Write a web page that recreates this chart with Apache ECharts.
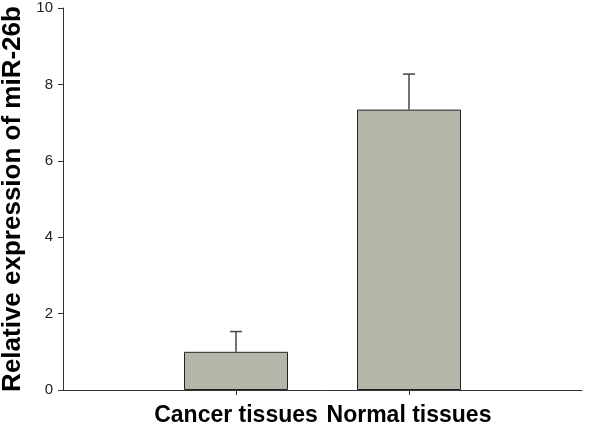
<!DOCTYPE html>
<html>
<head>
<meta charset="utf-8">
<script src="https://cdn.jsdelivr.net/npm/echarts@6/dist/echarts.min.js"></script>
<style>
  html, body { margin: 0; padding: 0; background: #fff; }
  #chart { width: 600px; height: 425px; }
</style>
</head>
<body>
<div id="chart"></div>
<script>
var categories = ['Cancer tissues', 'Normal tissues'];
var means = [1.0, 7.34];
var errors = [0.53, 0.93];
var yTicks = [0, 2, 4, 6, 8, 10];

// axis runs 0..3 with the two groups at 1 and 2
var axisCats = [''].concat(categories).concat(['']);
var barData = [null].concat(means).concat([null]);
var errData = [];
for (var i = 0; i < categories.length; i++) {
  errData.push([i + 1, means[i], means[i] + errors[i]]);
}

var myChart = echarts.init(document.getElementById('chart'));
var option = {
  animation: false,
  grid: { left: 63, right: 18, top: 8, bottom: 35, containLabel: false, outerBoundsMode: 'none' },
  xAxis: {
    type: 'category',
    data: axisCats,
    boundaryGap: false,
    axisLine: { lineStyle: { color: '#333', width: 1 } },
    axisTick: {
      length: 5,
      lineStyle: { color: '#333' },
      interval: function (idx) { return idx > 0 && idx < axisCats.length - 1; }
    },
    axisLabel: {
      interval: 0,
      margin: 14,
      color: '#000',
      fontFamily: 'Liberation Sans, Arial',
      fontWeight: 'bold',
      fontSize: 23
    },
    splitLine: { show: false }
  },
  yAxis: {
    type: 'value',
    min: yTicks[0],
    max: yTicks[yTicks.length - 1],
    interval: 2,
    name: 'Relative expression of miR-26b',
    nameLocation: 'middle',
    nameGap: 36,
    nameTextStyle: {
      color: '#000',
      fontFamily: 'Liberation Sans, Arial',
      fontWeight: 'bold',
      fontSize: 26
    },
    axisLine: { show: true, lineStyle: { color: '#333', width: 1 } },
    axisTick: { show: true, length: 5, lineStyle: { color: '#333' } },
    axisLabel: {
      margin: 10,
      color: '#222',
      fontFamily: 'Liberation Sans, Arial',
      fontSize: 15
    },
    splitLine: { show: false }
  },
  series: [
    {
      type: 'bar',
      data: barData,
      barWidth: 104,
      itemStyle: { color: '#b5b5a9', borderColor: '#222', borderWidth: 1 }
    },
    {
      type: 'custom',
      data: errData,
      z: 1,
      renderItem: function (params, api) {
        var x = api.value(0);
        var base = api.coord([x, api.value(1)]);
        var top = api.coord([x, api.value(2)]);
        var half = 6;
        var style = { stroke: '#444', lineWidth: 1.5 };
        return {
          type: 'group',
          children: [
            { type: 'line', shape: { x1: base[0], y1: base[1], x2: top[0], y2: top[1] }, style: style },
            { type: 'line', shape: { x1: top[0] - half, y1: top[1], x2: top[0] + half, y2: top[1] }, style: style }
          ]
        };
      }
    }
  ]
};
myChart.setOption(option);
</script>
</body>
</html>
